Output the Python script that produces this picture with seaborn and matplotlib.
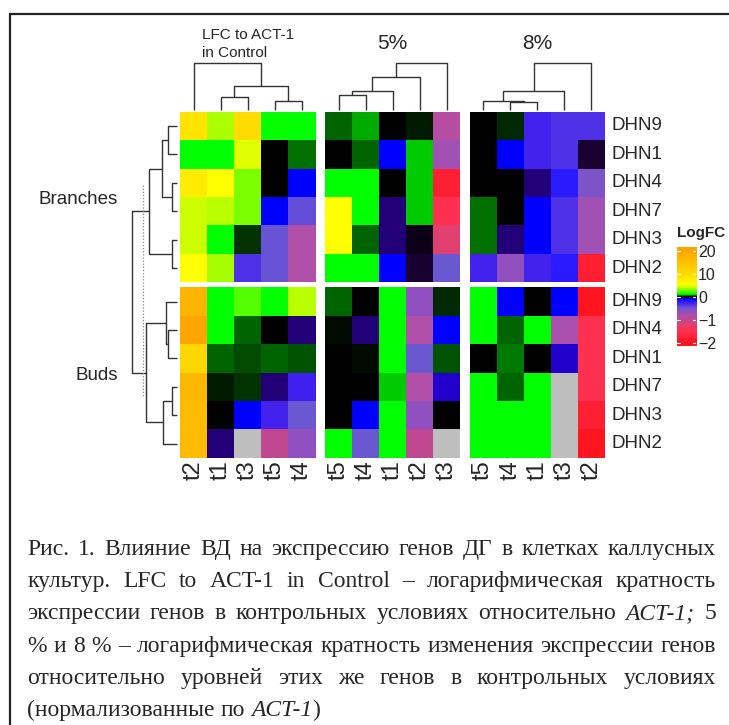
import numpy as np
import pandas as pd
import matplotlib
matplotlib.use("Agg")
import matplotlib.pyplot as plt
import matplotlib.colors as mcolors
from matplotlib.lines import Line2D
import seaborn as sns

# ---------------------------------------------------------------- data
genes_branches = ["DHN9", "DHN1", "DHN4", "DHN7", "DHN3", "DHN2"]
genes_buds = ["DHN9", "DHN4", "DHN1", "DHN7", "DHN3", "DHN2"]
group_names = ["Branches", "Buds"]

panel_titles = ["LFC to ACT-1\nin Control", "5%", "8%"]
cols_control = ["t2", "t1", "t3", "t5", "t4"]
cols_5 = ["t5", "t4", "t1", "t2", "t3"]
cols_8 = ["t5", "t4", "t1", "t3", "t2"]

nan = np.nan
control_branches = [
    [9.0, 3.7, 10.2, 1.1, 1.0],
    [1.0, 1.0, 4.5, 0.0, 0.44],
    [7.8, 5.2, 2.9, 0.0, -0.10],
    [4.2, 3.9, 2.9, -0.10, -0.45],
    [4.2, 1.0, 0.20, -0.48, -0.85],
    [5.0, 3.6, -0.35, -0.48, -0.85],
]
control_buds = [
    [17.3, 1.0, 2.3, 1.0, 3.9],
    [20.0, 1.0, 0.40, 0.0, -0.04],
    [11.0, 0.40, 0.30, 0.40, 0.33],
    [16.6, 0.10, 0.20, -0.04, -0.28],
    [16.0, 0.0, -0.10, -0.30, -0.50],
    [16.0, -0.04, nan, -1.0, -0.60],
]
pct5_branches = [
    [0.40, 0.67, 0.0, 0.10, -0.90],
    [0.0, 0.40, -0.10, 0.80, -0.75],
    [1.0, 1.0, 0.0, 0.80, -1.8],
    [5.0, 1.0, -0.04, 0.80, -1.5],
    [5.0, 0.40, -0.04, -0.01, -1.2],
    [1.0, 1.0, -0.10, -0.02, -0.50],
]
pct5_buds = [
    [0.40, 0.0, 1.0, -0.60, 0.16],
    [0.04, -0.04, 1.0, -0.85, -0.10],
    [0.0, 0.04, 1.0, -0.50, 0.33],
    [0.0, 0.0, 0.80, -0.85, -0.08],
    [0.0, -0.10, 1.0, -0.60, 0.0],
    [1.0, -0.50, 1.0, -1.0, nan],
]
pct8_branches = [
    [0.0, 0.16, -0.30, -0.35, -0.35],
    [0.0, -0.10, -0.30, -0.35, -0.02],
    [0.0, 0.0, -0.04, -0.20, -0.55],
    [0.44, 0.0, -0.10, -0.35, -0.75],
    [0.44, -0.04, -0.10, -0.35, -0.75],
    [-0.30, -0.60, -0.30, -0.20, -1.8],
]
pct8_buds = [
    [1.0, -0.10, 0.0, -0.10, -2.0],
    [1.0, 0.40, 1.0, -0.80, -1.5],
    [0.0, 0.47, 0.0, -0.08, -1.5],
    [1.0, 0.40, 1.0, nan, -1.5],
    [1.0, 1.0, 1.0, nan, -1.8],
    [1.0, 1.0, 1.0, nan, -2.0],
]

# hierarchical merges: (node_a, node_b, height); leaves are 0..n-1,
# each merge creates the next node index
col_link_control = [(1, 2, 0.27), (3, 4, 0.18), (5, 6, 0.51), (0, 7, 1.00)]
col_link_5 = [(0, 1, 0.32), (5, 2, 0.41), (6, 3, 0.69), (7, 4, 1.00)]
col_link_8 = [(1, 2, 0.17), (0, 5, 0.19), (6, 3, 0.41), (7, 4, 1.00)]
row_link_branches = [(0, 1, 0.205), (2, 3, 0.117), (6, 7, 0.34), (4, 5, 0.117), (8, 9, 0.63)]
row_link_buds = [(1, 2, 0.21), (0, 6, 0.25), (3, 4, 0.117), (8, 5, 0.316), (7, 9, 0.684)]
row_link_top = 1.0
row_cut_height = 0.744

# colour scale
legend_breaks = [-2, -1, 0, 10, 20]
legend_labels = ["\u22122", "\u22121", "0", "10", "20"]
scale_values = [-2.0, -1.5, -1.2, -1.0, -0.85, -0.7, -0.6, -0.5, -0.4, -0.3, -0.2,
                -0.1, -0.08, -0.04, -0.02, 0.0, 1.0, 5.0, 10.0, 20.0]
scale_colors = ["#ff1420", "#ff3050", "#e04070", "#c04890", "#b050a8", "#9a50b8",
                "#9050c0", "#6a58d0", "#5a40e0", "#4422ee", "#2a1aff", "#0000ff",
                "#2200cc", "#22007a", "#180030", "#000000", "#00ff00", "#ffff00",
                "#ffdd00", "#ffa500"]
NA_COLOR = "#bebebe"

caption_lines = [
    [("Рис. 1. Влияние ВД на экспрессию генов ДГ в клетках каллусных", "normal")],
    [("культур. LFC to ACT-1 in Control – логарифмическая кратность", "normal")],
    [("экспрессии генов в контрольных условиях относительно ", "normal"),
     ("ACT-1;", "italic"), (" 5", "normal")],
    [("% и 8 % – логарифмическая кратность изменения экспрессии генов", "normal")],
    [("относительно уровней этих же генов в контрольных условиях", "normal")],
    [("(нормализованные по ", "normal"), ("ACT-1", "italic"), (")", "normal")],
]

# ---------------------------------------------------------------- setup
sns.set_theme(style="white")
plt.rcParams["font.family"] = ["Liberation Sans", "DejaVu Sans"]

W, H, DPI = 729, 725, 100
fig = plt.figure(figsize=(W / DPI, H / DPI), dpi=DPI)
fig.patch.set_facecolor("white")


def add_ax(x0, y0, x1, y1):
    """Axes from a pixel box measured from the top-left corner."""
    return fig.add_axes([x0 / W, 1 - y1 / H, (x1 - x0) / W, (y1 - y0) / H])


class BreakNorm(mcolors.Normalize):
    """Piecewise-linear normalisation with equally spaced breaks."""

    def __init__(self, breaks):
        super().__init__(vmin=breaks[0], vmax=breaks[-1])
        self._b = np.asarray(breaks, float)
        self._p = np.linspace(0, 1, len(breaks))

    def __call__(self, value, clip=None):
        data = np.ma.asarray(value).astype(float)
        out = np.interp(np.ma.filled(data, np.nan), self._b, self._p)
        return np.ma.masked_array(out, mask=np.ma.getmaskarray(data) | np.isnan(out))

    def inverse(self, value):
        return np.interp(value, self._p, self._b)


norm = BreakNorm(legend_breaks)
stop_pos = np.asarray(norm(np.array(scale_values)))
cmap = mcolors.LinearSegmentedColormap.from_list(
    "logfc", list(zip(stop_pos, scale_colors)), N=4096)
cmap.set_bad(NA_COLOR)


def draw_dendro(ax, leaf_pos, links, horizontal, lw=1.0, color="#333333"):
    pos = list(leaf_pos)
    hgt = [0.0] * len(leaf_pos)
    for a, b, h in links:
        pa, pb, ha, hb = pos[a], pos[b], hgt[a], hgt[b]
        xs = [pa, pa, pb, pb]
        ys = [ha, h, h, hb]
        if horizontal:
            ax.plot(ys, xs, color=color, lw=lw, clip_on=False, solid_capstyle="butt")
        else:
            ax.plot(xs, ys, color=color, lw=lw, clip_on=False, solid_capstyle="butt")
        pos.append((pa + pb) / 2)
        hgt.append(h)
    return pos[-1], hgt[-1]


# ---------------------------------------------------------------- layout
HM_X = [(180.0, 315.5), (325.0, 460.0), (469.5, 605.0)]
HM_Y = [(111.7, 282.3), (287.3, 457.7)]
DEND_TOP, DEND_BOT = 62.7, 110.0
ROW_FS, COL_FS = 13.5, 17

panels = [
    (cols_control, control_branches, control_buds, col_link_control),
    (cols_5, pct5_branches, pct5_buds, col_link_5),
    (cols_8, pct8_branches, pct8_buds, col_link_8),
]
group_genes = [genes_branches, genes_buds]

for j, (cols, m_br, m_bu, link) in enumerate(panels):
    x0, x1 = HM_X[j]
    for g, mat in enumerate([m_br, m_bu]):
        y0, y1 = HM_Y[g]
        ax = add_ax(x0, y0, x1, y1)
        df = pd.DataFrame(mat, index=group_genes[g], columns=cols)
        sns.heatmap(df, ax=ax, cmap=cmap, norm=norm, cbar=False,
                    xticklabels=(g == 1), yticklabels=(j == 2))
        ax.set_facecolor(NA_COLOR)
        ax.set_xlabel("")
        ax.set_ylabel("")
        ax.tick_params(length=0)
        if j == 2:
            ax.yaxis.tick_right()
            ax.set_yticklabels(group_genes[g], rotation=0, ha="left",
                               va="center", fontsize=ROW_FS)
            ax.tick_params(axis="y", pad=5, length=0)
        if g == 1:
            ax.set_xticklabels(cols, rotation=90, fontsize=COL_FS)
            ax.tick_params(axis="x", pad=2, length=0)

    # column dendrogram
    axd = add_ax(x0, DEND_TOP, x1, DEND_BOT)
    axd.set_xlim(0, len(cols))
    axd.set_ylim(0, 1)
    axd.axis("off")
    draw_dendro(axd, [i + 0.5 for i in range(len(cols))], link, horizontal=False)

# panel titles
title_x = [(a + b) / 2 for a, b in HM_X]
fig.text(title_x[0] / W, 1 - 43.7 / H, panel_titles[0], ha="center", va="center",
         multialignment="left", fontsize=11, linespacing=1.35)
for j in (1, 2):
    fig.text(title_x[j] / W, 1 - 43.5 / H, panel_titles[j], ha="center",
             va="center", fontsize=15)

# row dendrogram
RD_X0, RD_X1 = 131.7, 177.3
axr = add_ax(RD_X0, HM_Y[0][0], RD_X1, HM_Y[1][1])
axr.set_xlim(1, 0)
axr.set_ylim(HM_Y[1][1], HM_Y[0][0])
axr.axis("off")
roots = []
for g, links in enumerate([row_link_branches, row_link_buds]):
    y0, y1 = HM_Y[g]
    n = len(group_genes[g])
    step = (y1 - y0) / n
    leaves = [y0 + (i + 0.5) * step for i in range(n)]
    roots.append(draw_dendro(axr, leaves, links, horizontal=True))
(pa, ha), (pb, hb) = roots
axr.plot([ha, row_link_top, row_link_top, hb], [pa, pa, pb, pb],
         color="#333333", lw=1.0, clip_on=False)
axr.plot([row_cut_height, row_cut_height], [185, 397], color="#888888",
         lw=0.9, ls=(0, (1, 1.5)), clip_on=False)

# group labels
for g, name in enumerate(group_names):
    yc = {0: 199, 1: 375}[g]
    fig.text(118 / W, 1 - yc / H, name, ha="right", va="center", fontsize=ROW_FS)

# legend
axl = add_ax(676.7, 246.7, 696.0, 346.0)
lo, hi = -0.15, 4.2
tt = np.linspace(lo, hi, 600)
grad = cmap(np.clip(tt / 4, 0, 1))[:, None, :]
axl.imshow(grad, extent=[0, 1, lo, hi], origin="lower", aspect="auto",
           interpolation="bilinear")
axl.set_xlim(0, 1)
axl.set_ylim(lo, hi)
for k in range(len(legend_breaks)):
    axl.plot([0, 0.18], [k, k], color="white", lw=0.8)
    axl.plot([0.82, 1], [k, k], color="white", lw=0.8)
axl.set_xticks([])
axl.yaxis.tick_right()
axl.set_yticks(range(len(legend_breaks)))
axl.set_yticklabels(legend_labels, fontsize=11.5)
axl.tick_params(axis="y", length=0, pad=1.5)
for s in axl.spines.values():
    s.set_visible(False)
fig.text(677.3 / W, 1 - 232.7 / H, "LogFC", ha="left", va="center",
         fontsize=11, fontweight="bold")

# frame
fig.add_artist(Line2D([9.5 / W, 9.5 / W], [0, 1 - 13.5 / H], transform=fig.transFigure,
                      color="#222222", lw=1.6))
fig.add_artist(Line2D([9.5 / W, 1.0], [1 - 13.5 / H, 1 - 13.5 / H],
                      transform=fig.transFigure, color="#222222", lw=1.6))

# caption, justified
CAP_FONT = "Liberation Serif"
CAP_FS = 17
CAP_LEFT, CAP_RIGHT = 27.3, 716.0
cap_baselines = [555, 587, 619, 652, 684, 716]
renderer = fig.canvas.get_renderer()


def text_width(s, style):
    t = fig.text(0, 0, s, fontsize=CAP_FS, family=CAP_FONT, style=style)
    w = t.get_window_extent(renderer).width
    t.remove()
    return w


def split_words(line):
    words = [[]]
    for text, style in line:
        parts = text.split(" ")
        for i, p in enumerate(parts):
            if i > 0:
                words.append([])
            if p:
                words[-1].append((p, style))
    return [w for w in words if w]


space_w = text_width("a a", "normal") - text_width("aa", "normal")
for li, line in enumerate(caption_lines):
    words = split_words(line)
    widths = [[text_width(s, st) for s, st in w] for w in words]
    total = sum(sum(w) for w in widths)
    last = li == len(caption_lines) - 1
    gap = space_w if last else (CAP_RIGHT - CAP_LEFT - total) / (len(words) - 1)
    gap = max(gap, 0.6 * space_w)
    x = CAP_LEFT
    yb = 1 - cap_baselines[li] / H
    for w, ws in zip(words, widths):
        xx = x
        for (s, st), sw in zip(w, ws):
            fig.text(xx / W, yb, s, fontsize=CAP_FS, family=CAP_FONT, style=st,
                     ha="left", va="baseline")
            xx += sw
        x += sum(ws) + gap

fig.savefig("out.png", dpi=DPI, facecolor="white")
